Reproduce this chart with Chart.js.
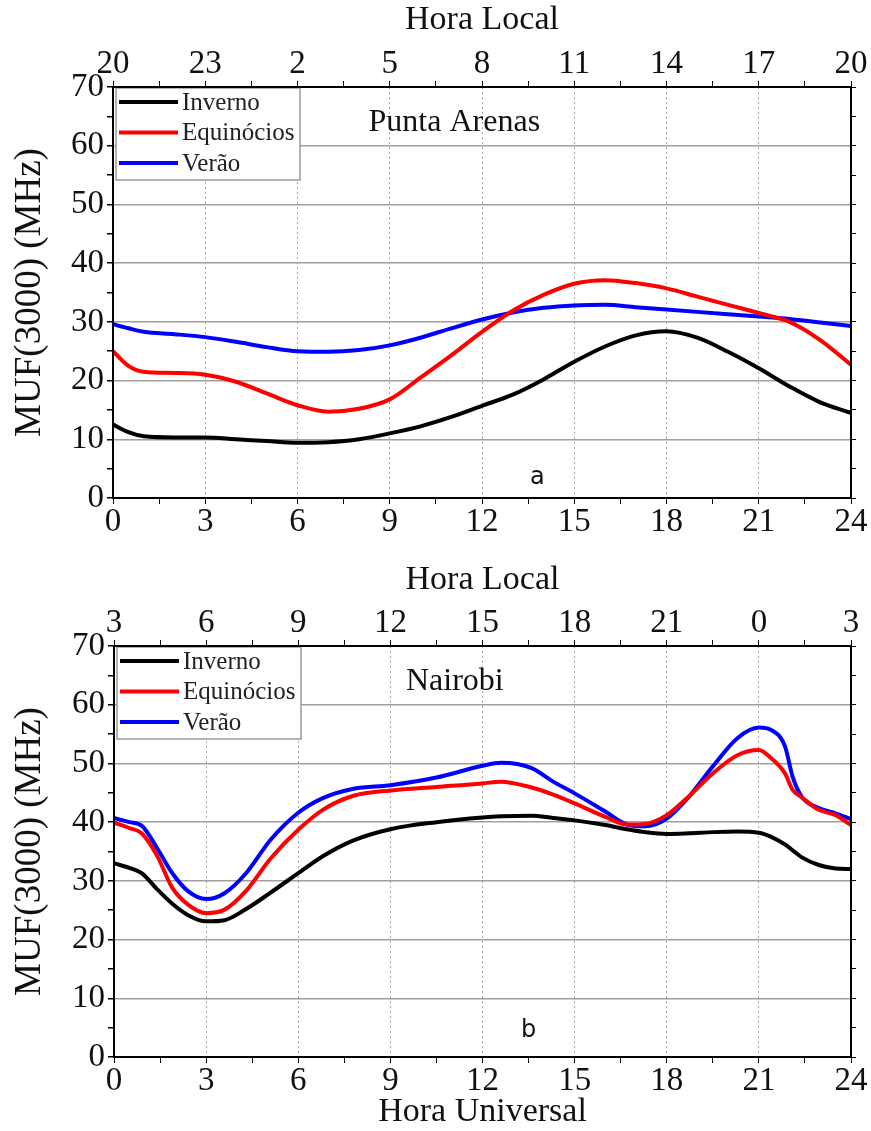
<!DOCTYPE html>
<html>
<head>
<meta charset="utf-8">
<script src="https://cdn.jsdelivr.net/npm/chart.js@4.4.1/dist/chart.umd.min.js"></script>
<style>
  html, body { margin: 0; padding: 0; background: #fff; }
  #wrap { position: relative; width: 871px; height: 1131px; }
  canvas { position: absolute; left: 0; display: block; }
  #c1 { top: 0; }
  #c2 { top: 560px; }
</style>
</head>
<body>
<div id="wrap">
  <canvas id="c1" width="871" height="560"></canvas>
  <canvas id="c2" width="871" height="571"></canvas>
</div>
<script>
// series names / colours
const seriesNames = ['Inverno', 'Equinócios', 'Verão'];
const seriesColors = ['#000000', '#ff0000', '#0000ff'];

// top axis labels (hora local) for ticks at 0,3,...,24 UT
const localPA = ['20', '23', '2', '5', '8', '11', '14', '17', '20'];
const localNB = ['3', '6', '9', '12', '15', '18', '21', '0', '3'];

// Punta Arenas (a)
const hoursPA = [0, 0.5, 1, 2, 3, 4, 5, 6, 7, 8, 9, 10, 11, 12, 13, 14, 15, 16, 17, 18, 19, 20, 21, 22, 23, 24];
const invernoPA = [12.5, 11.2, 10.5, 10.3, 10.3, 10.0, 9.7, 9.4, 9.5, 10.0, 11.0, 12.2, 13.8, 15.7, 17.6, 20.2, 23.2, 25.8, 27.7, 28.4, 27.3, 24.9, 22.1, 19.0, 16.3, 14.5];
const equinociosPA = [25.0, 22.5, 21.5, 21.3, 21.0, 19.8, 17.8, 15.8, 14.7, 15.2, 16.8, 20.5, 24.3, 28.3, 31.9, 34.6, 36.5, 37.1, 36.6, 35.7, 34.3, 32.9, 31.5, 30.0, 26.9, 22.7];
const veraoPA = [29.6, 28.9, 28.3, 27.9, 27.4, 26.6, 25.7, 25.0, 24.9, 25.2, 26.0, 27.3, 28.9, 30.4, 31.6, 32.4, 32.8, 32.9, 32.5, 32.1, 31.7, 31.3, 30.9, 30.5, 29.9, 29.3];

// Nairobi (b)
const hoursNB = [0, 0.5, 0.9, 1.4, 1.9, 2.4, 3, 3.6, 4.3, 5.1, 6, 6.8, 7.8, 9, 10.5, 12, 12.6, 13.6, 14.3, 15, 16, 16.7, 17.3, 18, 18.7, 19.5, 20.3, 21, 21.4, 21.85, 22.1, 22.4, 22.95, 23.5, 24];
const invernoNB = [33.0, 32.2, 31.3, 28.6, 26.1, 24.2, 23.1, 23.3, 25.2, 28.0, 31.3, 34.2, 36.9, 38.8, 40.0, 40.8, 41.0, 41.1, 40.7, 40.3, 39.5, 38.8, 38.3, 38.0, 38.1, 38.3, 38.4, 38.2, 37.5, 36.2, 35.2, 34.0, 32.7, 32.1, 32.0];
const equinociosNB = [39.9, 39.0, 38.1, 34.3, 28.8, 26.0, 24.5, 25.1, 28.3, 33.8, 38.7, 42.1, 44.5, 45.4, 46.0, 46.6, 46.9, 45.9, 44.7, 43.2, 40.9, 39.6, 39.7, 41.2, 44.3, 48.3, 51.4, 52.3, 50.9, 48.3, 45.5, 44.2, 42.1, 41.2, 39.5];
const veraoNB = [40.7, 40.0, 39.4, 35.6, 31.3, 28.3, 26.9, 27.9, 31.3, 37.0, 41.6, 44.1, 45.7, 46.3, 47.6, 49.6, 50.1, 49.2, 46.9, 44.9, 41.8, 39.6, 39.3, 40.6, 44.2, 49.5, 54.3, 56.1, 55.7, 52.9, 47.7, 44.3, 42.4, 41.5, 40.5];

const FONT = 'Liberation Serif';
const tickFont = { family: FONT, size: 33, lineHeight: 1 };
const xTitleFont = { family: FONT, size: 34, lineHeight: 1 };
const yTitleFont = { family: FONT, size: 37, lineHeight: 1 };

function pts(hours, vals) {
  return hours.map((h, i) => ({ x: h, y: vals[i] }));
}

// legend box + panel labels drawn on the plot
const overlay = {
  id: 'overlay',
  afterDatasetsDraw(chart, args, opts) {
    const { ctx, chartArea: ca, scales } = chart;
    ctx.save();
    // legend
    const bx = ca.left + 3, by = ca.top + 1, bw = 184, bh = 92;
    ctx.fillStyle = '#fff';
    ctx.fillRect(bx, by, bw, bh);
    ctx.strokeStyle = '#999';
    ctx.lineWidth = 1.5;
    ctx.strokeRect(bx, by, bw, bh);
    ctx.font = '25px "' + FONT + '"';
    ctx.textBaseline = 'middle';
    chart.data.datasets.forEach((ds, i) => {
      const y = by + 14 + i * 30.5;
      ctx.strokeStyle = ds.borderColor;
      ctx.lineWidth = 4;
      ctx.beginPath();
      ctx.moveTo(bx + 3, y);
      ctx.lineTo(bx + 62, y);
      ctx.stroke();
      ctx.fillStyle = '#222';
      ctx.fillText(ds.label, bx + 66, y + 1);
    });
    // station name
    ctx.textAlign = 'center';
    ctx.fillStyle = '#111';
    ctx.font = '32px "' + FONT + '"';
    ctx.fillText(opts.station, scales.x.getPixelForValue(opts.stationX), scales.y.getPixelForValue(64));
    // panel letter
    ctx.font = '24px "DejaVu Sans"';
    ctx.fillText(opts.letter, scales.x.getPixelForValue(opts.letterX), scales.y.getPixelForValue(opts.letterY));
    // frame
    ctx.strokeStyle = '#000';
    ctx.lineWidth = 2;
    ctx.strokeRect(ca.left, ca.top, ca.right - ca.left, ca.bottom - ca.top);
    ctx.restore();
  }
};

function makeChart(canvasId, cfg) {
  const datasets = [cfg.inverno, cfg.equinocios, cfg.verao].map((vals, i) => ({
    label: seriesNames[i],
    data: pts(cfg.hours, vals),
    borderColor: seriesColors[i],
    backgroundColor: seriesColors[i],
    borderWidth: 4,
    pointRadius: 0,
    cubicInterpolationMode: 'monotone',
    fill: false
  }));

  return new Chart(document.getElementById(canvasId), {
    type: 'line',
    data: { datasets },
    plugins: [overlay],
    options: {
      responsive: false,
      animation: false,
      layout: { padding: 0 },
      plugins: {
        legend: { display: false },
        tooltip: { enabled: false },
        overlay: { station: cfg.station, stationX: cfg.stationX, letter: cfg.letter, letterX: cfg.letterX, letterY: cfg.letterY }
      },
      scales: {
        x: {
          type: 'linear', position: 'bottom', min: 0, max: 24,
          ticks: {
            stepSize: 1.5, autoSkip: false, maxRotation: 0, color: '#111', font: tickFont, padding: 2,
            callback: v => (v % 3 === 0 ? String(v) : '')
          },
          grid: {
            color: c => (c.tick && c.tick.value % 3 === 0 && c.tick.value > 0 && c.tick.value < 24) ? '#a8a8a8' : 'rgba(0,0,0,0)',
            lineWidth: 1, tickColor: '#000', tickLength: 6
          },
          border: { display: true, color: '#000', width: 2, dash: [2, 3] },
          title: { display: !!cfg.bottomTitle, text: cfg.bottomTitle || '', color: '#111', font: xTitleFont, padding: { top: 0, bottom: 2 } },
          afterFit: s => { s.height = cfg.bottomH; }
        },
        x2: {
          type: 'linear', position: 'top', min: 0, max: 24,
          ticks: {
            stepSize: 1.5, autoSkip: false, maxRotation: 0, color: '#111', font: tickFont, padding: 0,
            callback: v => (v % 3 === 0 ? cfg.localLabels[v / 3] : '')
          },
          grid: { drawOnChartArea: false, tickColor: '#000', tickLength: 6 },
          border: { display: true, color: '#000', width: 2 },
          title: { display: true, text: 'Hora Local', color: '#111', font: xTitleFont, padding: { top: 3, bottom: 0 } },
          afterFit: s => { s.height = cfg.topH; }
        },
        y: {
          type: 'linear', position: 'left', min: 0, max: 70,
          ticks: {
            stepSize: 5, autoSkip: false, color: '#111', font: tickFont, padding: 3,
            callback: v => (v % 10 === 0 ? String(v) : '')
          },
          grid: {
            color: c => (c.tick && c.tick.value % 10 === 0 && c.tick.value > 0 && c.tick.value < 70) ? '#a0a0a0' : 'rgba(0,0,0,0)',
            lineWidth: 1.5, tickColor: '#000', tickLength: 6
          },
          border: { display: true, color: '#000', width: 2 },
          title: { display: true, text: 'MUF(3000) (MHz)', color: '#111', font: yTitleFont, padding: { top: 12, bottom: 0 } },
          afterFit: s => { s.width = cfg.leftW; }
        },
        y2: {
          type: 'linear', position: 'right', min: 0, max: 70,
          ticks: { stepSize: 5, display: false },
          grid: { drawOnChartArea: false, tickColor: '#000', tickLength: 5 },
          border: { display: true, color: '#000', width: 2 },
          afterFit: s => { s.width = 20; }
        }
      }
    }
  });
}

makeChart('c1', {
  hours: hoursPA, inverno: invernoPA, equinocios: equinociosPA, verao: veraoPA,
  localLabels: localPA, station: 'Punta Arenas', stationX: 11.1,
  letter: 'a', letterX: 13.8, letterY: 3.5,
  topH: 87, bottomH: 62, leftW: 113
});

makeChart('c2', {
  hours: hoursNB, inverno: invernoNB, equinocios: equinociosNB, verao: veraoNB,
  localLabels: localNB, station: 'Nairobi', stationX: 11.1,
  letter: 'b', letterX: 13.5, letterY: 4.4,
  topH: 86, bottomH: 74, leftW: 114, bottomTitle: 'Hora Universal'
});
</script>
</body>
</html>
